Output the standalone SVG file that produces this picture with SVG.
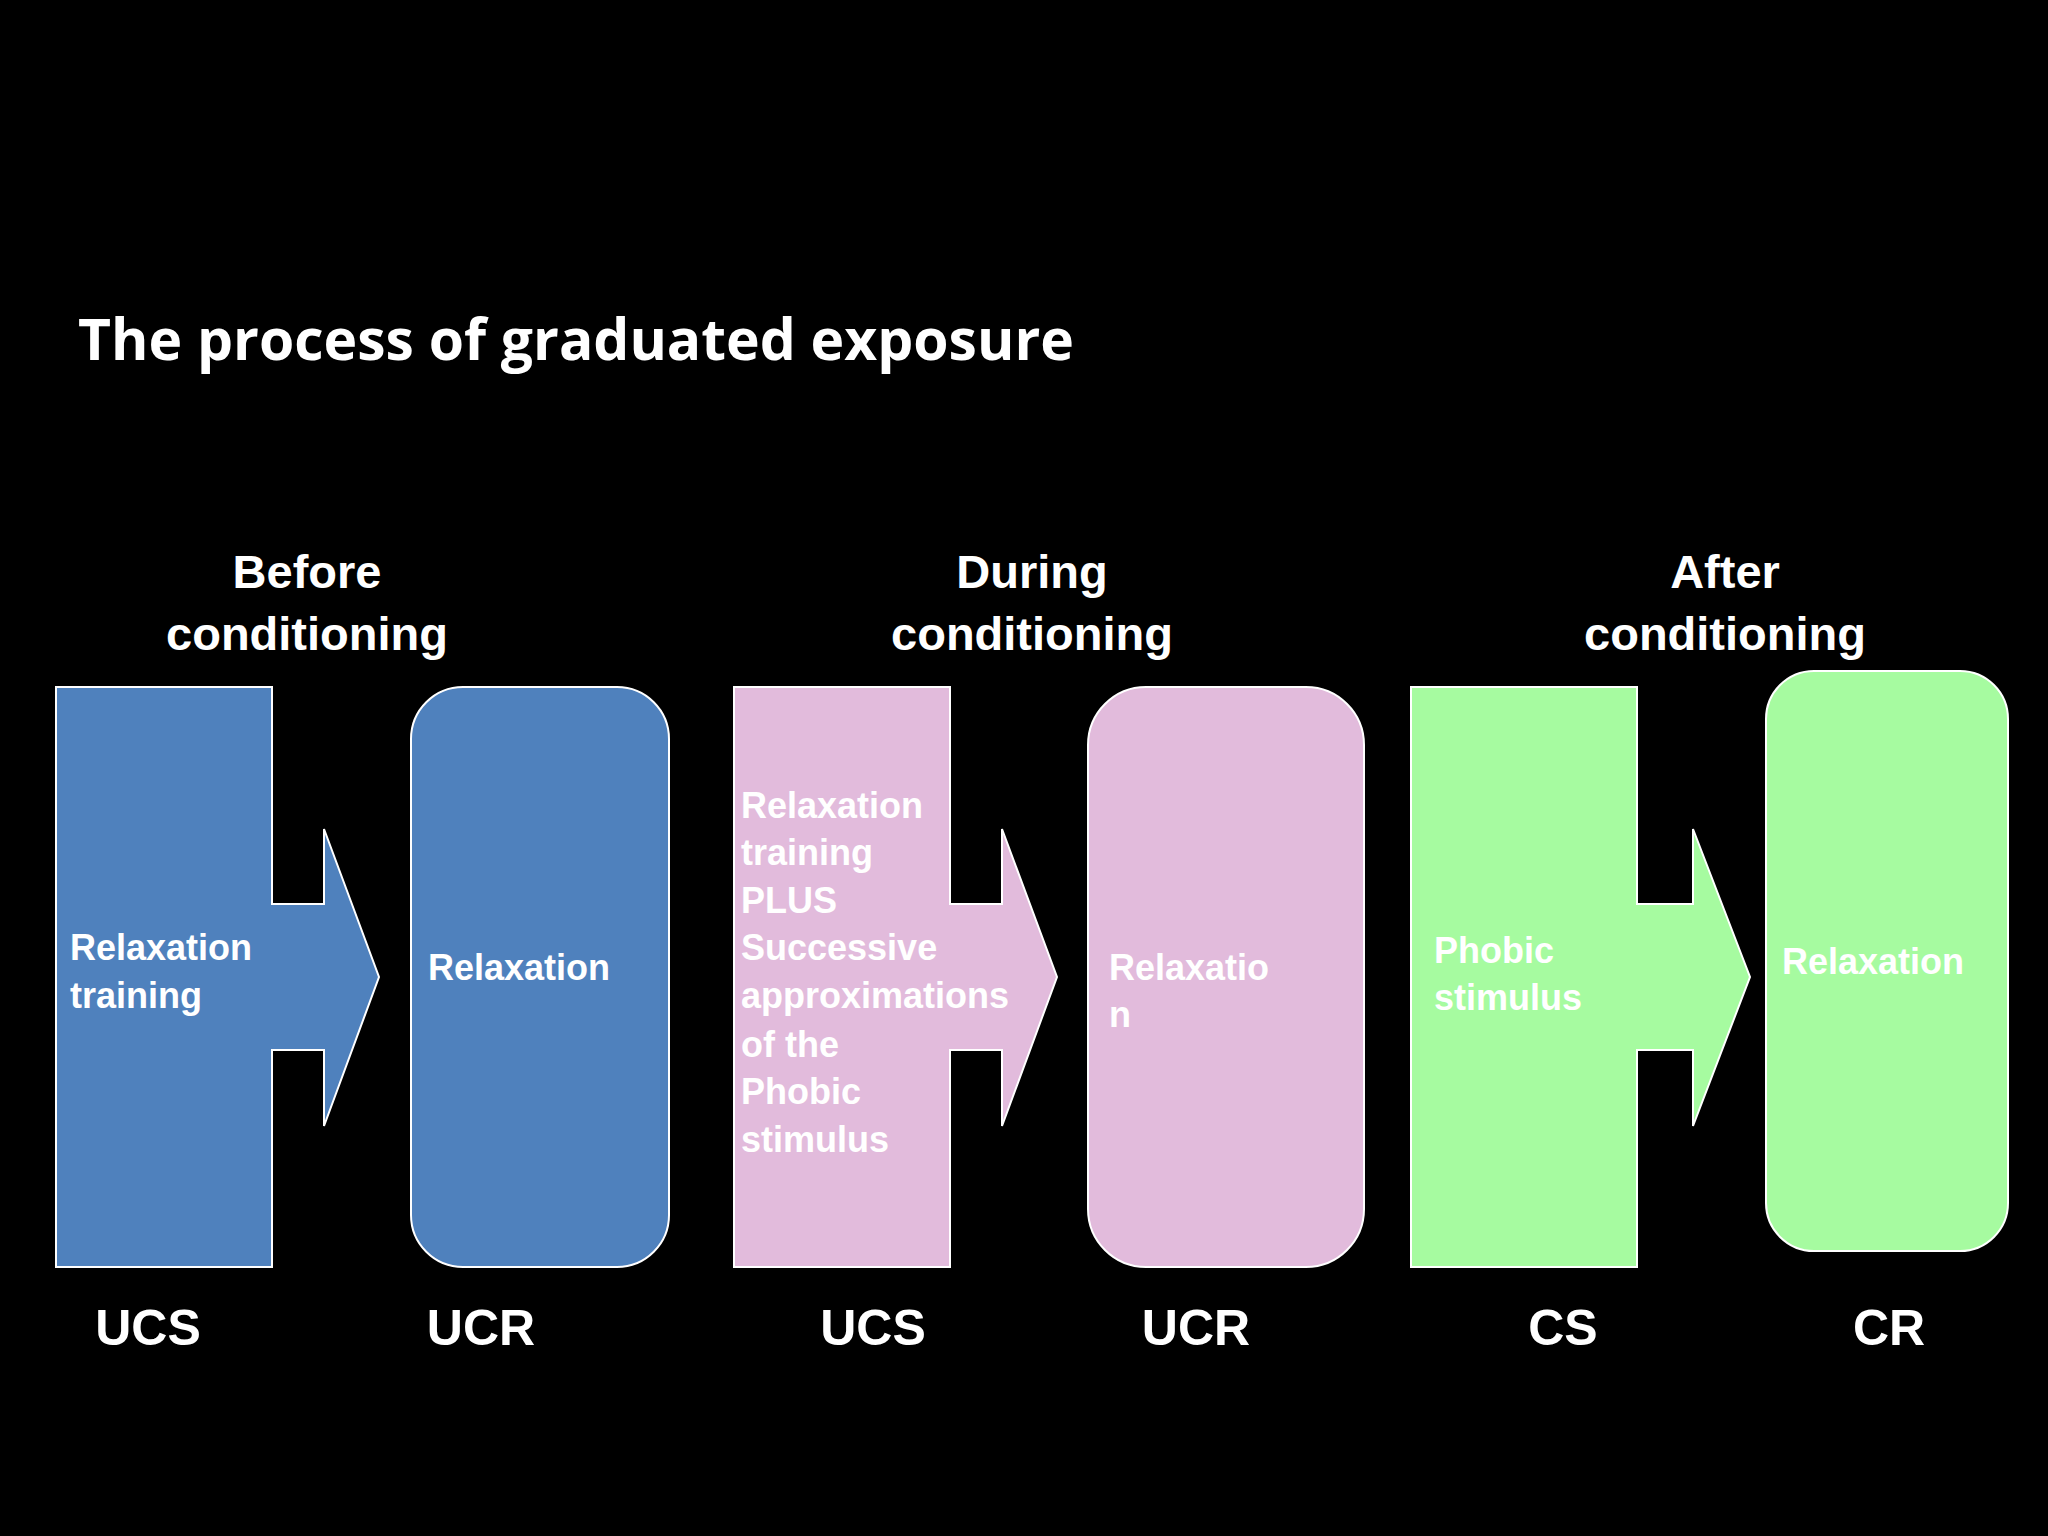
<svg xmlns="http://www.w3.org/2000/svg" width="2048" height="1536" viewBox="0 0 2048 1536">
<style>
.t{font-family:"Open Sans","Liberation Sans",sans-serif;font-weight:bold;fill:#fff}
.h{font-family:"Liberation Sans",Arial,sans-serif;font-weight:bold;fill:#fff;font-size:47px;text-anchor:middle}
.n{font-family:"Liberation Sans",Arial,sans-serif;font-weight:bold;fill:#fff;font-size:36px}
.b{font-family:"Liberation Sans",Arial,sans-serif;font-weight:bold;fill:#fff;font-size:50px;text-anchor:middle}
.s{stroke:#fff;stroke-width:2}
</style>
<rect width="2048" height="1536" fill="#000"/>
<text class="t" x="78" y="360" font-size="57">The process of graduated exposure</text>
<text class="h" x="307" y="588">Before</text><text class="h" x="307" y="650">conditioning</text>
<text class="h" x="1032" y="588">During</text><text class="h" x="1032" y="650">conditioning</text>
<text class="h" x="1725" y="588">After</text><text class="h" x="1725" y="650">conditioning</text>
<g id="ucs1"><path class="s" fill="#4F81BD" d="M56,687H272V904H324V829L379,977L324,1126V1050H272V1267H56Z"/>
<text class="n" x="70" y="960">Relaxation</text><text class="n" x="70" y="1008">training</text></g>
<g id="ucr1"><rect class="s" fill="#4F81BD" x="411" y="687" width="258" height="580" rx="52"/>
<text class="n" x="428" y="980">Relaxation</text></g>
<g id="ucs2"><path class="s" fill="#E2BBDC" d="M734,687H950V904H1002V829L1057,977L1002,1126V1050H950V1267H734Z"/>
<text class="n" x="741" y="818">Relaxation</text><text class="n" x="741" y="865">training</text><text class="n" x="741" y="913">PLUS</text><text class="n" x="741" y="960">Successive</text><text class="n" x="741" y="1008">approximations</text><text class="n" x="741" y="1057">of the</text><text class="n" x="741" y="1104">Phobic</text><text class="n" x="741" y="1152">stimulus</text></g>
<g id="ucr2"><rect class="s" fill="#E2BBDC" x="1088" y="687" width="276" height="580" rx="58"/>
<text class="n" x="1109" y="980">Relaxatio</text><text class="n" x="1109" y="1027">n</text></g>
<g id="cs"><path class="s" fill="#A6FBA0" d="M1411,687H1637V904H1693V829L1750,977L1693,1126V1050H1637V1267H1411Z"/>
<text class="n" x="1434" y="963">Phobic</text><text class="n" x="1434" y="1010">stimulus</text></g>
<g id="cr"><rect class="s" fill="#A6FBA0" x="1766" y="671" width="242" height="580" rx="48"/>
<text class="n" x="1782" y="974">Relaxation</text></g>
<g id="connectors"></g>
<text class="b" x="148" y="1345">UCS</text><text class="b" x="481" y="1345">UCR</text><text class="b" x="873" y="1345">UCS</text><text class="b" x="1196" y="1345">UCR</text><text class="b" x="1563" y="1345">CS</text><text class="b" x="1889" y="1345">CR</text>
</svg>
